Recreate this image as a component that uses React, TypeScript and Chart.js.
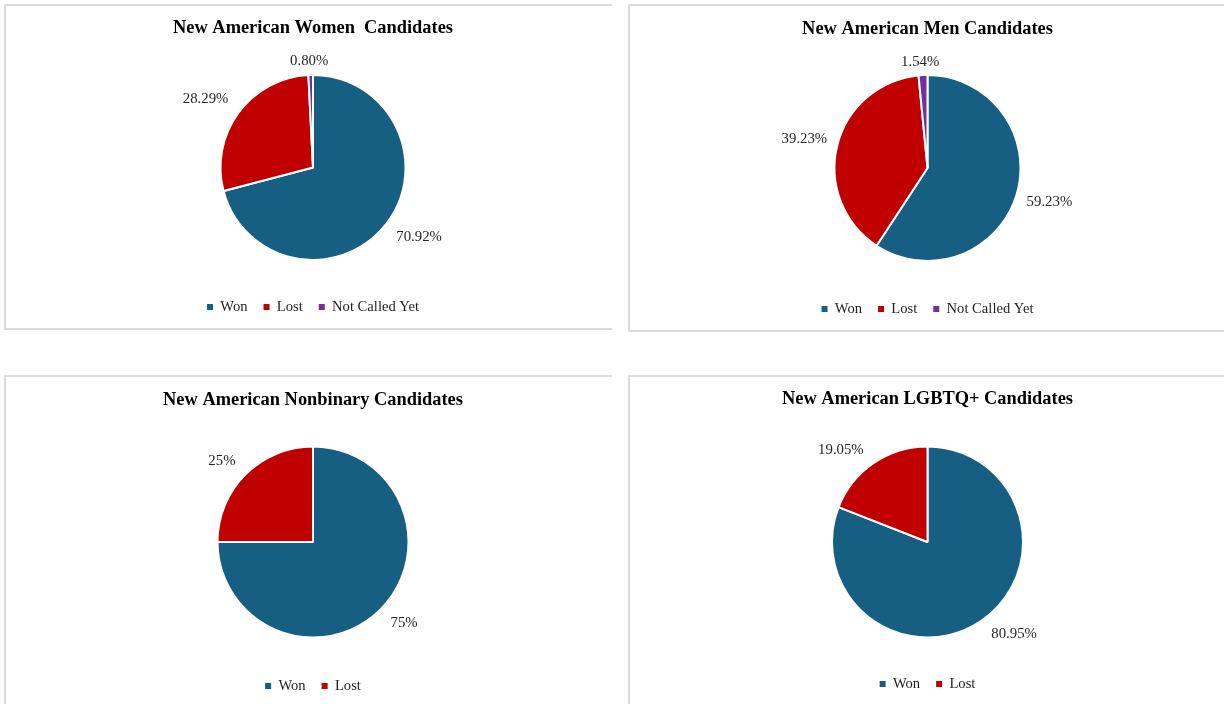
import React, { useEffect, useRef } from "react";
import { Chart, registerables } from "chart.js";

Chart.register(...registerables);

// ---------- data ----------
const womenTitle = "New American Women  Candidates";
const womenCategories = ["Won", "Lost", "Not Called Yet"];
const womenValues = [70.92, 28.29, 0.8];
const womenLabels = ["70.92%", "28.29%", "0.80%"];

const menTitle = "New American Men Candidates";
const menCategories = ["Won", "Lost", "Not Called Yet"];
const menValues = [59.23, 39.23, 1.54];
const menLabels = ["59.23%", "39.23%", "1.54%"];

const nonbinaryTitle = "New American Nonbinary Candidates";
const nonbinaryCategories = ["Won", "Lost"];
const nonbinaryValues = [75, 25];
const nonbinaryLabels = ["75%", "25%"];

const lgbtqTitle = "New American LGBTQ+ Candidates";
const lgbtqCategories = ["Won", "Lost"];
const lgbtqValues = [80.95, 19.05];
const lgbtqLabels = ["80.95%", "19.05%"];

const sliceColors = ["#165F82", "#C00000", "#7030A0"];

const SERIF = '"Liberation Serif", "Times New Roman", serif';

const clamp = (v: number) => Math.max(-1, Math.min(1, v));

const outsideLabels = {
  id: "outsideLabels",
  afterDatasetsDraw(chart: any, _args: any, opts: any) {
    const ctx = chart.ctx;
    const meta = chart.getDatasetMeta(0);
    const texts: string[] = opts.texts || [];
    ctx.save();
    ctx.font = `${opts.size}px ${SERIF}`;
    ctx.fillStyle = opts.color;
    ctx.textAlign = "center";
    ctx.textBaseline = "middle";
    meta.data.forEach((arc: any, i: number) => {
      const p = arc.getProps(["x", "y", "startAngle", "endAngle", "outerRadius"], true);
      const mid = (p.startAngle + p.endAngle) / 2;
      const dx = Math.cos(mid);
      const dy = Math.sin(mid);
      const t = texts[i];
      const w = ctx.measureText(t).width;
      const h = opts.size;
      const ex = p.x + dx * p.outerRadius;
      const ey = p.y + dy * p.outerRadius;
      const lx = ex + clamp(2 * dx) * (w / 2 + opts.gapX);
      const ly = ey + clamp(2 * dy) * (h / 2 + opts.gapY);
      ctx.fillText(t, lx, ly);
    });
    ctx.restore();
  },
};

type PieProps = {
  title: string;
  categories: string[];
  values: number[];
  labels: string[];
  left: number;
  top: number;
  width: number;
  height: number;
  radius: number;
  titleTop: number;
  titleBottom: number;
  padLeft: number;
  padBottom: number;
};

function PieChart(props: PieProps) {
  const ref = useRef<HTMLCanvasElement | null>(null);
  useEffect(() => {
    if (!ref.current) return;
    const chart = new Chart(ref.current, {
      type: "pie",
      data: {
        labels: props.categories,
        datasets: [
          {
            data: props.values,
            backgroundColor: sliceColors.slice(0, props.values.length),
            borderColor: "#ffffff",
            borderWidth: 2,
            hoverOffset: 0,
          },
        ],
      },
      plugins: [outsideLabels],
      options: {
        responsive: false,
        animation: false,
        devicePixelRatio: 1,
        radius: props.radius,
        layout: {
          padding: { left: props.padLeft, right: 0, top: 0, bottom: props.padBottom },
        },
        plugins: {
          title: {
            display: true,
            text: props.title,
            color: "#000000",
            font: { family: SERIF, size: 18.4, weight: "bold" },
            padding: { top: props.titleTop, bottom: props.titleBottom },
          },
          legend: {
            display: true,
            position: "bottom",
            labels: {
              color: "#1f1f1f",
              font: { family: SERIF, size: 14.6 },
              boxWidth: 6,
              boxHeight: 6,
              padding: 16,
              generateLabels: (c: any) => {
                const ds = c.data.datasets[0];
                return c.data.labels.map((l: string, i: number) => ({
                  text: l,
                  fillStyle: ds.backgroundColor[i],
                  strokeStyle: ds.backgroundColor[i],
                  lineWidth: 0,
                  hidden: false,
                  index: i,
                  fontColor: "#1f1f1f",
                }));
              },
            },
          },
          tooltip: { enabled: false },
          outsideLabels: { texts: props.labels, size: 14.8, color: "#262626", gapX: 10, gapY: 6 },
        } as any,
      } as any,
    });
    return () => chart.destroy();
  }, []);
  return (
    <canvas
      ref={ref}
      width={props.width}
      height={props.height}
      style={{ position: "absolute", left: props.left, top: props.top, width: props.width, height: props.height }}
    />
  );
}

const border = "2px solid #DCDCDC";

export default function App() {
  return (
    <div
      style={{
        position: "absolute",
        left: 0,
        top: 0,
        width: 1224,
        height: 704,
        overflow: "hidden",
        background: "#ffffff",
      }}
    >
      {/* panel frames */}
      <div style={{ position: "absolute", left: 4, top: 4, width: 608, height: 326, borderLeft: border, borderTop: border, borderBottom: border, boxSizing: "border-box" }} />
      <div style={{ position: "absolute", left: 628, top: 4, width: 610, height: 328, border: border, boxSizing: "border-box" }} />
      <div style={{ position: "absolute", left: 4, top: 375, width: 608, height: 400, borderLeft: border, borderTop: border, boxSizing: "border-box" }} />
      <div style={{ position: "absolute", left: 628, top: 375, width: 610, height: 400, border: border, boxSizing: "border-box" }} />

      <PieChart
        title={womenTitle}
        categories={womenCategories}
        values={womenValues}
        labels={womenLabels}
        left={6}
        top={6}
        width={605}
        height={322}
        radius={92.5}
        titleTop={10.96}
        titleBottom={12.2}
        padLeft={9}
        padBottom={3.75}
      />
      <PieChart
        title={menTitle}
        categories={menCategories}
        values={menValues}
        labels={menLabels}
        left={630}
        top={6}
        width={595}
        height={324}
        radius={93}
        titleTop={11.96}
        titleBottom={10.2}
        padLeft={0}
        padBottom={3.75}
      />
      <PieChart
        title={nonbinaryTitle}
        categories={nonbinaryCategories}
        values={nonbinaryValues}
        labels={nonbinaryLabels}
        left={6}
        top={377}
        width={605}
        height={340}
        radius={95.5}
        titleTop={11.96}
        titleBottom={10.2}
        padLeft={9}
        padBottom={13.75}
      />
      <PieChart
        title={lgbtqTitle}
        categories={lgbtqCategories}
        values={lgbtqValues}
        labels={lgbtqLabels}
        left={630}
        top={377}
        width={595}
        height={340}
        radius={95.5}
        titleTop={10.96}
        titleBottom={13.2}
        padLeft={0}
        padBottom={15.75}
      />
    </div>
  );
}
